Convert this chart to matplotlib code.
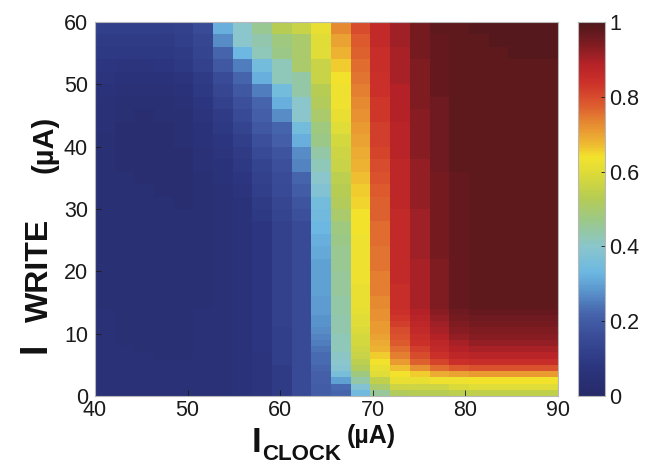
import numpy as np
import matplotlib
matplotlib.use("Agg")
import matplotlib.pyplot as plt
from matplotlib.colors import LinearSegmentedColormap

plt.rcParams["font.family"] = ["Liberation Sans", "DejaVu Sans"]

# grid edges (uA)
clock_edges = np.linspace(40, 91, 25)
write_edges = [60, 58, 56, 54, 52, 50, 48, 46, 44, 42, 40, 38, 36, 34, 32, 30,
               28, 26, 24, 22, 20, 18, 16, 14,
               13, 12, 11, 10, 9, 8, 7, 6, 5, 4, 3, 2, 1, 0]

# switching probability, one list per I_CLOCK column, top (60 uA) down to 14 uA
upper_cols = [
    [0.11, 0.10, 0.09, 0.08, 0.07, 0.06, 0.05, 0.05, 0.05, 0.04, 0.04, 0.04, 0.04, 0.04, 0.04, 0.04, 0.04, 0.04, 0.04, 0.04, 0.04, 0.04, 0.04],
    [0.11, 0.10, 0.09, 0.07, 0.06, 0.05, 0.04, 0.04, 0.03, 0.03, 0.03, 0.03, 0.04, 0.04, 0.04, 0.04, 0.04, 0.04, 0.04, 0.04, 0.04, 0.04, 0.04],
    [0.11, 0.10, 0.09, 0.07, 0.06, 0.05, 0.04, 0.03, 0.03, 0.03, 0.03, 0.03, 0.03, 0.04, 0.04, 0.04, 0.04, 0.04, 0.04, 0.04, 0.04, 0.04, 0.04],
    [0.11, 0.10, 0.09, 0.08, 0.06, 0.05, 0.04, 0.04, 0.03, 0.03, 0.03, 0.03, 0.03, 0.03, 0.04, 0.04, 0.04, 0.04, 0.04, 0.04, 0.04, 0.04, 0.04],
    [0.12, 0.11, 0.10, 0.09, 0.07, 0.06, 0.05, 0.04, 0.04, 0.04, 0.03, 0.03, 0.03, 0.03, 0.03, 0.04, 0.04, 0.04, 0.04, 0.04, 0.04, 0.04, 0.04],
    [0.16, 0.14, 0.13, 0.12, 0.10, 0.09, 0.08, 0.07, 0.06, 0.06, 0.05, 0.05, 0.04, 0.04, 0.04, 0.04, 0.04, 0.04, 0.04, 0.04, 0.04, 0.04, 0.04],
    [0.32, 0.27, 0.22, 0.19, 0.16, 0.14, 0.12, 0.10, 0.09, 0.08, 0.07, 0.06, 0.06, 0.05, 0.05, 0.05, 0.05, 0.05, 0.05, 0.05, 0.05, 0.05, 0.05],
    [0.40, 0.40, 0.33, 0.25, 0.22, 0.19, 0.17, 0.15, 0.13, 0.11, 0.10, 0.09, 0.08, 0.07, 0.06, 0.06, 0.06, 0.06, 0.06, 0.06, 0.06, 0.06, 0.06],
    [0.46, 0.43, 0.42, 0.35, 0.32, 0.25, 0.22, 0.21, 0.19, 0.17, 0.15, 0.13, 0.12, 0.11, 0.10, 0.09, 0.08, 0.08, 0.08, 0.08, 0.08, 0.08, 0.08],
    [0.53, 0.48, 0.47, 0.42, 0.42, 0.35, 0.32, 0.27, 0.22, 0.21, 0.18, 0.17, 0.16, 0.15, 0.14, 0.13, 0.12, 0.12, 0.12, 0.12, 0.12, 0.12, 0.12],
    [0.56, 0.50, 0.50, 0.50, 0.44, 0.44, 0.40, 0.40, 0.35, 0.32, 0.27, 0.26, 0.22, 0.20, 0.18, 0.17, 0.15, 0.15, 0.15, 0.15, 0.15, 0.15, 0.15],
    [0.62, 0.60, 0.60, 0.56, 0.56, 0.53, 0.52, 0.50, 0.48, 0.47, 0.44, 0.42, 0.40, 0.38, 0.35, 0.34, 0.33, 0.32, 0.31, 0.30, 0.30, 0.30, 0.29],
    [0.73, 0.70, 0.68, 0.66, 0.64, 0.63, 0.63, 0.62, 0.60, 0.58, 0.57, 0.56, 0.54, 0.53, 0.52, 0.50, 0.48, 0.47, 0.46, 0.46, 0.45, 0.45, 0.44],
    [0.80, 0.78, 0.77, 0.76, 0.75, 0.74, 0.73, 0.72, 0.71, 0.70, 0.69, 0.68, 0.67, 0.66, 0.65, 0.64, 0.64, 0.63, 0.63, 0.63, 0.63, 0.62, 0.62],
    [0.86, 0.86, 0.85, 0.85, 0.84, 0.84, 0.83, 0.83, 0.82, 0.82, 0.81, 0.80, 0.79, 0.78, 0.77, 0.77, 0.76, 0.76, 0.75, 0.75, 0.74, 0.74, 0.73],
    [0.91, 0.91, 0.90, 0.90, 0.90, 0.89, 0.89, 0.89, 0.88, 0.88, 0.88, 0.87, 0.87, 0.87, 0.87, 0.86, 0.86, 0.86, 0.86, 0.86, 0.86, 0.85, 0.85],
    [0.95, 0.95, 0.95, 0.94, 0.94, 0.94, 0.94, 0.93, 0.93, 0.93, 0.93, 0.92, 0.92, 0.92, 0.92, 0.91, 0.91, 0.91, 0.91, 0.90, 0.90, 0.90, 0.90],
    [0.98, 0.97, 0.97, 0.97, 0.97, 0.97, 0.96, 0.96, 0.96, 0.96, 0.96, 0.96, 0.95, 0.95, 0.95, 0.95, 0.95, 0.95, 0.95, 0.94, 0.94, 0.94, 0.94],
    [0.98, 0.98, 0.98, 0.98, 0.98, 0.98, 0.98, 0.98, 0.98, 0.98, 0.98, 0.98, 0.97, 0.97, 0.97, 0.97, 0.97, 0.97, 0.97, 0.97, 0.97, 0.97, 0.97],
    [0.99, 0.98, 0.98, 0.98, 0.98, 0.98, 0.98, 0.98, 0.98, 0.98, 0.98, 0.98, 0.98, 0.98, 0.98, 0.98, 0.98, 0.98, 0.98, 0.98, 0.98, 0.98, 0.98],
    [0.99, 0.99, 0.98, 0.98, 0.98, 0.98, 0.98, 0.98, 0.98, 0.98, 0.98, 0.98, 0.98, 0.98, 0.98, 0.98, 0.98, 0.98, 0.98, 0.98, 0.98, 0.98, 0.98],
    [0.99, 0.99, 0.99, 0.98, 0.98, 0.98, 0.98, 0.98, 0.98, 0.98, 0.98, 0.98, 0.98, 0.98, 0.98, 0.98, 0.98, 0.98, 0.98, 0.98, 0.98, 0.98, 0.98],
    [0.99, 0.99, 0.99, 0.98, 0.98, 0.98, 0.98, 0.98, 0.98, 0.98, 0.98, 0.98, 0.98, 0.98, 0.98, 0.98, 0.98, 0.98, 0.98, 0.98, 0.98, 0.98, 0.98],
    [0.99, 0.99, 0.99, 0.98, 0.98, 0.98, 0.98, 0.98, 0.98, 0.98, 0.98, 0.98, 0.98, 0.98, 0.98, 0.98, 0.98, 0.98, 0.98, 0.98, 0.98, 0.98, 0.98],
]

# same columns, 14 uA down to 0 uA in 1 uA steps
lower_cols = [
    [0.05, 0.05, 0.05, 0.05, 0.05, 0.05, 0.05, 0.05, 0.05, 0.05, 0.05, 0.05, 0.05, 0.05],
    [0.04, 0.04, 0.04, 0.04, 0.04, 0.04, 0.05, 0.05, 0.05, 0.05, 0.05, 0.05, 0.05, 0.05],
    [0.04, 0.04, 0.04, 0.04, 0.04, 0.04, 0.04, 0.05, 0.05, 0.05, 0.05, 0.05, 0.05, 0.05],
    [0.04, 0.04, 0.04, 0.04, 0.04, 0.04, 0.04, 0.04, 0.05, 0.05, 0.05, 0.05, 0.05, 0.05],
    [0.04, 0.04, 0.04, 0.04, 0.04, 0.04, 0.04, 0.04, 0.05, 0.05, 0.05, 0.05, 0.05, 0.05],
    [0.05, 0.05, 0.05, 0.05, 0.05, 0.05, 0.05, 0.05, 0.05, 0.05, 0.05, 0.05, 0.05, 0.05],
    [0.05, 0.05, 0.05, 0.05, 0.05, 0.05, 0.05, 0.05, 0.05, 0.05, 0.05, 0.05, 0.05, 0.05],
    [0.06, 0.06, 0.06, 0.06, 0.06, 0.06, 0.06, 0.06, 0.06, 0.06, 0.06, 0.06, 0.06, 0.06],
    [0.08, 0.08, 0.08, 0.08, 0.08, 0.08, 0.08, 0.07, 0.07, 0.07, 0.07, 0.07, 0.07, 0.07],
    [0.12, 0.12, 0.12, 0.11, 0.11, 0.11, 0.11, 0.11, 0.11, 0.10, 0.10, 0.10, 0.10, 0.10],
    [0.15, 0.15, 0.15, 0.15, 0.15, 0.15, 0.15, 0.15, 0.15, 0.15, 0.15, 0.15, 0.15, 0.15],
    [0.29, 0.28, 0.28, 0.27, 0.26, 0.25, 0.24, 0.23, 0.23, 0.22, 0.21, 0.21, 0.20, 0.20],
    [0.44, 0.43, 0.43, 0.43, 0.42, 0.42, 0.42, 0.41, 0.40, 0.39, 0.36, 0.30, 0.23, 0.22],
    [0.61, 0.60, 0.60, 0.59, 0.58, 0.58, 0.57, 0.56, 0.54, 0.52, 0.48, 0.44, 0.38, 0.34],
    [0.72, 0.72, 0.71, 0.71, 0.70, 0.69, 0.68, 0.66, 0.64, 0.62, 0.60, 0.55, 0.50, 0.45],
    [0.84, 0.83, 0.82, 0.80, 0.79, 0.78, 0.76, 0.74, 0.71, 0.67, 0.64, 0.62, 0.57, 0.52],
    [0.89, 0.88, 0.87, 0.86, 0.85, 0.84, 0.82, 0.80, 0.77, 0.72, 0.66, 0.62, 0.57, 0.53],
    [0.93, 0.92, 0.91, 0.90, 0.89, 0.87, 0.86, 0.84, 0.81, 0.76, 0.69, 0.63, 0.57, 0.53],
    [0.96, 0.95, 0.94, 0.93, 0.92, 0.90, 0.89, 0.87, 0.84, 0.78, 0.70, 0.63, 0.59, 0.54],
    [0.97, 0.96, 0.95, 0.94, 0.93, 0.92, 0.90, 0.88, 0.85, 0.79, 0.71, 0.64, 0.60, 0.55],
    [0.97, 0.96, 0.95, 0.94, 0.93, 0.92, 0.90, 0.88, 0.85, 0.79, 0.71, 0.64, 0.60, 0.55],
    [0.97, 0.96, 0.95, 0.94, 0.93, 0.92, 0.90, 0.88, 0.85, 0.79, 0.71, 0.64, 0.60, 0.55],
    [0.97, 0.96, 0.95, 0.94, 0.93, 0.92, 0.90, 0.88, 0.85, 0.79, 0.71, 0.64, 0.60, 0.55],
    [0.97, 0.96, 0.95, 0.94, 0.93, 0.92, 0.90, 0.88, 0.85, 0.79, 0.71, 0.64, 0.60, 0.55],
]

cbar_ticks = [0, 0.2, 0.4, 0.6, 0.8, 1]
cbar_labels = ["0", "0.2", "0.4", "0.6", "0.8", "1"]

# washed-out jet, as in the printed figure
cmap = LinearSegmentedColormap.from_list("faded_jet", [
    (0.00, "#262a68"), (0.08, "#2c3680"), (0.16, "#3a4c98"), (0.22, "#4664ac"),
    (0.28, "#5a94cc"), (0.33, "#6cb8e2"), (0.40, "#8ac6cc"), (0.47, "#9cc888"),
    (0.53, "#b6cc52"), (0.60, "#e0dc38"), (0.64, "#f2e22c"), (0.68, "#eeb432"),
    (0.73, "#e68a32"), (0.78, "#dc5a2e"), (0.84, "#cc3029"), (0.89, "#b42228"),
    (0.94, "#801c22"), (1.00, "#4e171b"),
])

prob = np.array([u + l for u, l in zip(upper_cols, lower_cols)]).T

W, H = 652, 465
fig = plt.figure(figsize=(W / 100, H / 100), dpi=100)
ax = fig.add_axes([0.1457, 0.1484, 0.7101, 0.8043])
mesh = ax.pcolormesh(clock_edges, write_edges, prob, cmap=cmap,
                     vmin=0, vmax=1, shading="flat")
ax.set_xlim(40, 90)
ax.set_ylim(0, 60)
ax.set_xticks([40, 50, 60, 70, 80, 90])
ax.set_yticks([0, 10, 20, 30, 40, 50, 60])
ax.tick_params(direction="in", length=4, width=0.6, labelsize=15.5,
               colors="#1a1a1a", top=False, right=False)
ax.tick_params(axis="x", pad=3)
ax.tick_params(axis="y", pad=5)
for s in ax.spines.values():
    s.set_color("#b8b8b8")
    s.set_linewidth(0.8)


def label_piece(txt, x, y, size, rot=0):
    # x, y: baseline anchor in picture pixels from top-left
    fig.text(x / W, 1 - y / H, txt, fontsize=size, fontweight="bold",
             rotation=rot, rotation_mode="anchor",
             ha="center", va="baseline", color="#111111")


# x label: I_CLOCK (uA)
label_piece("I", 257, 452, 25)
label_piece("CLOCK", 302, 460, 16)
label_piece("(µA)", 371, 443, 18)

# y label: I_WRITE (uA)
label_piece("I", 45, 348, 27, rot=90)
label_piece("WRITE", 48, 270, 23, rot=90)
label_piece("(µA)", 52, 144, 21, rot=90)

cax = fig.add_axes([0.8865, 0.1484, 0.0414, 0.8043])
cb = fig.colorbar(mesh, cax=cax, ticks=cbar_ticks)
cb.ax.set_yticklabels(cbar_labels)
cb.ax.tick_params(direction="in", length=3, width=0.6, labelsize=15.5,
                  colors="#1a1a1a", pad=3)
cb.outline.set_edgecolor("#b8b8b8")
cb.outline.set_linewidth(0.8)

fig.savefig("out.png", dpi=100)
